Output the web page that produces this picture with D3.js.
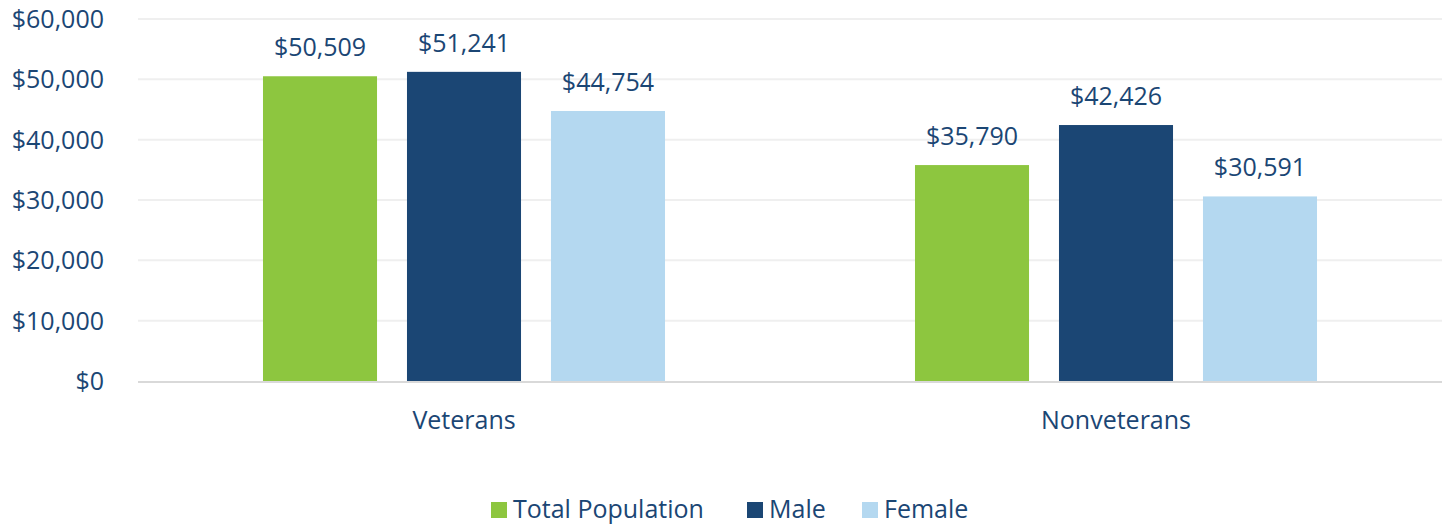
<!DOCTYPE html>
<html>
<head>
<meta charset="utf-8">
<script src="https://cdn.jsdelivr.net/npm/d3@7"></script>
<style>
  body { margin: 0; background: #fff; }
  text { font-family: "Open Sans", "Noto Sans", sans-serif; fill: #1b4674; }
</style>
</head>
<body>
<script>
var categories = ["Veterans", "Nonveterans"];
var seriesNames = ["Total Population", "Male", "Female"];
var totalPopulation = [50509, 35790];
var male = [51241, 42426];
var female = [44754, 30591];
var yTicks = [0, 10000, 20000, 30000, 40000, 50000, 60000];

var colors = ["#8dc63f", "#1b4674", "#b4d8f0"];
var seriesValues = [totalPopulation, male, female];

var width = 1447, height = 527;
var margin = {top: 19, right: 5, bottom: 146, left: 138};

var svg = d3.select("body").append("svg")
  .attr("width", width)
  .attr("height", height);

var x0 = d3.scaleBand()
  .domain(categories)
  .range([margin.left, width - margin.right])
  .paddingInner(0)
  .paddingOuter(0);

var x1 = d3.scaleBand()
  .domain(seriesNames)
  .range([0, x0.bandwidth()])
  .paddingInner(0.208)
  .paddingOuter(0.868);

var y = d3.scaleLinear()
  .domain([0, 60000])
  .range([height - margin.bottom, margin.top]);

var fmt = function(v) { return "$" + d3.format(",")(v); };

// gridlines
svg.append("g").selectAll("line")
  .data(yTicks.filter(function(d) { return d > 0; }))
  .enter().append("line")
  .attr("x1", margin.left)
  .attr("x2", width - margin.right)
  .attr("y1", function(d) { return y(d); })
  .attr("y2", function(d) { return y(d); })
  .attr("stroke", "#efefef")
  .attr("stroke-width", 2);

// y labels
svg.append("g").selectAll("text")
  .data(yTicks)
  .enter().append("text")
  .attr("x", 104)
  .attr("y", function(d) { return y(d); })
  .attr("dy", "0.36em")
  .attr("text-anchor", "end")
  .style("font-size", "25px")
  .text(fmt);

// bars
var groups = svg.selectAll(".grp")
  .data(categories)
  .enter().append("g")
  .attr("class", "grp")
  .attr("transform", function(d) { return "translate(" + x0(d) + ",0)"; });

groups.each(function(cat, ci) {
  var g = d3.select(this);
  var rows = seriesNames.map(function(s, si) { return {s: s, v: seriesValues[si][ci], i: si}; });
  g.selectAll("rect")
    .data(rows)
    .enter().append("rect")
    .attr("x", function(d) { return x1(d.s); })
    .attr("width", x1.bandwidth())
    .attr("y", function(d) { return y(d.v); })
    .attr("height", function(d) { return y(0) - y(d.v); })
    .attr("fill", function(d) { return colors[d.i]; });
  g.selectAll("text.lbl")
    .data(rows)
    .enter().append("text")
    .attr("class", "lbl")
    .attr("x", function(d) { return x1(d.s) + x1.bandwidth() / 2; })
    .attr("y", function(d) { return y(d.v) - 20; })
    .attr("text-anchor", "middle")
    .style("font-size", "25px")
    .text(function(d) { return fmt(d.v); });
});

// baseline
svg.append("line")
  .attr("x1", margin.left)
  .attr("x2", width - margin.right)
  .attr("y1", y(0) + 1)
  .attr("y2", y(0) + 1)
  .attr("stroke", "#d9d9d9")
  .attr("stroke-width", 2);

// category labels
svg.append("g").selectAll("text")
  .data(categories)
  .enter().append("text")
  .attr("x", function(d) { return x0(d) + x0.bandwidth() / 2; })
  .attr("y", 429)
  .attr("text-anchor", "middle")
  .style("font-size", "25px")
  .text(function(d) { return d; });

// legend
var legendX = [491, 747, 862];
var legend = svg.append("g").selectAll("g")
  .data(seriesNames)
  .enter().append("g")
  .attr("transform", function(d, i) { return "translate(" + legendX[i] + ",502)"; });
legend.append("rect")
  .attr("width", 16).attr("height", 16)
  .attr("fill", function(d, i) { return colors[i]; });
legend.append("text")
  .attr("x", 22)
  .attr("y", 16)
  .style("font-size", "25px")
  .text(function(d) { return d; });
</script>
</body>
</html>
